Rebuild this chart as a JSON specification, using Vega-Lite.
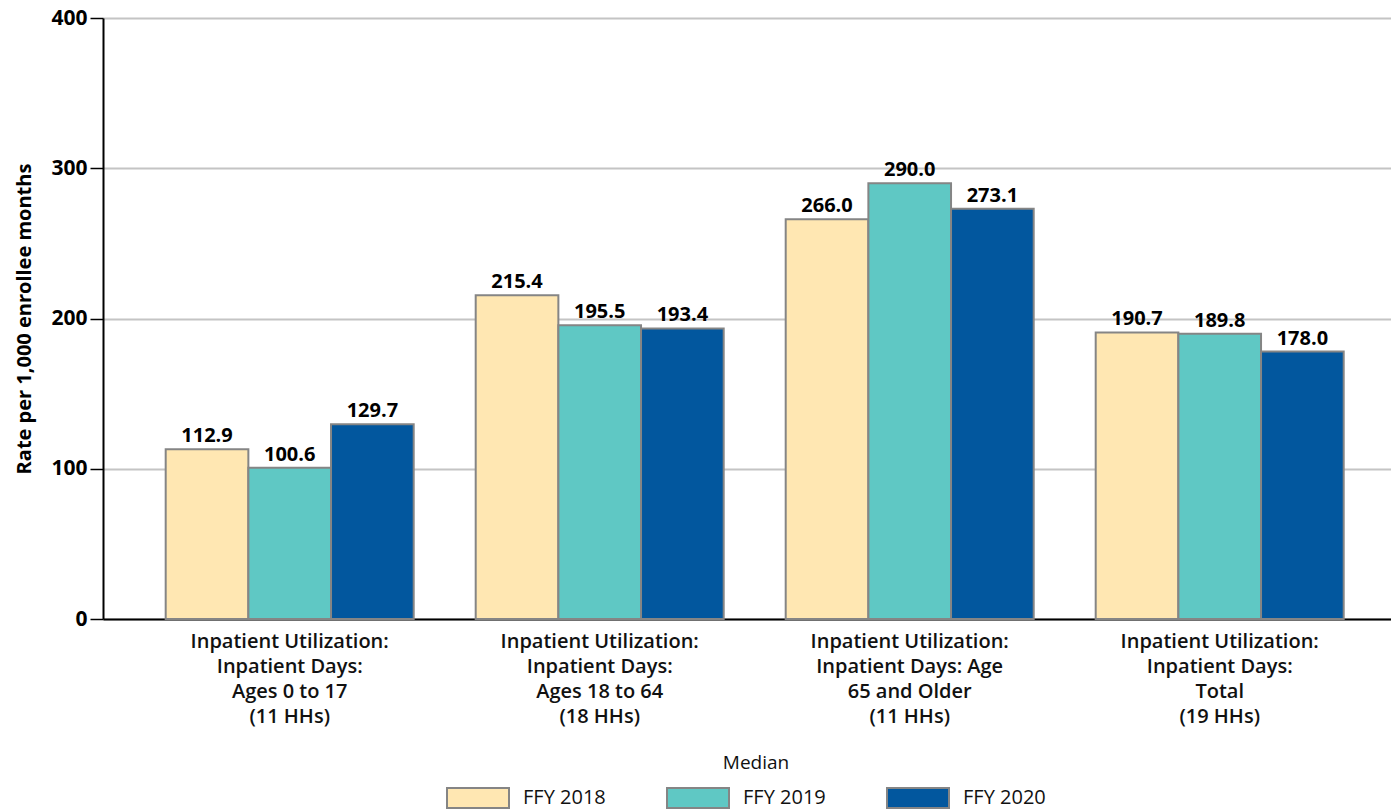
{
  "$schema": "https://vega.github.io/schema/vega-lite/v6.json",
  "autosize": "none",
  "width": 1288,
  "height": 601,
  "padding": {"left": 103, "top": 18, "right": 0, "bottom": 190},
  "background": "white",
  "config": {
    "font": "Open Sans",
    "view": {"stroke": null}
  },
  "data": {
    "values": [
      {"measure": "Inpatient Utilization:|Inpatient Days:|Ages 0 to 17|(11 HHs)", "year": "FFY 2018", "value": 112.9},
      {"measure": "Inpatient Utilization:|Inpatient Days:|Ages 0 to 17|(11 HHs)", "year": "FFY 2019", "value": 100.6},
      {"measure": "Inpatient Utilization:|Inpatient Days:|Ages 0 to 17|(11 HHs)", "year": "FFY 2020", "value": 129.7},
      {"measure": "Inpatient Utilization:|Inpatient Days:|Ages 18 to 64|(18 HHs)", "year": "FFY 2018", "value": 215.4},
      {"measure": "Inpatient Utilization:|Inpatient Days:|Ages 18 to 64|(18 HHs)", "year": "FFY 2019", "value": 195.5},
      {"measure": "Inpatient Utilization:|Inpatient Days:|Ages 18 to 64|(18 HHs)", "year": "FFY 2020", "value": 193.4},
      {"measure": "Inpatient Utilization:|Inpatient Days: Age|65 and Older|(11 HHs)", "year": "FFY 2018", "value": 266.0},
      {"measure": "Inpatient Utilization:|Inpatient Days: Age|65 and Older|(11 HHs)", "year": "FFY 2019", "value": 290.0},
      {"measure": "Inpatient Utilization:|Inpatient Days: Age|65 and Older|(11 HHs)", "year": "FFY 2020", "value": 273.1},
      {"measure": "Inpatient Utilization:|Inpatient Days:|Total|(19 HHs)", "year": "FFY 2018", "value": 190.7},
      {"measure": "Inpatient Utilization:|Inpatient Days:|Total|(19 HHs)", "year": "FFY 2019", "value": 189.8},
      {"measure": "Inpatient Utilization:|Inpatient Days:|Total|(19 HHs)", "year": "FFY 2020", "value": 178.0}
    ]
  },
  "encoding": {
    "x": {
      "field": "measure",
      "type": "nominal",
      "sort": null,
      "scale": {"paddingInner": 0.2, "paddingOuter": 0.1774, "align": 0.57},
      "axis": {
        "title": null,
        "labelAngle": 0,
        "labelExpr": "split(datum.label, '|')",
        "labelFontSize": 20,
        "labelFontWeight": 600,
        "labelLineHeight": 25,
        "labelColor": "#111111",
        "labelPadding": 12,
        "labelLimit": 400,
        "ticks": false,
        "domainColor": "#000000",
        "domainWidth": 2
      }
    },
    "xOffset": {
      "field": "year",
      "type": "nominal",
      "scale": {"paddingInner": 0, "paddingOuter": 0}
    },
    "y": {
      "field": "value",
      "type": "quantitative",
      "scale": {"domain": [0, 400], "nice": false},
      "axis": {
        "title": "Rate per 1,000 enrollee months",
        "titleFontSize": 20,
        "titleFontWeight": "bold",
        "titleColor": "#000000",
        "titlePadding": 16,
        "values": [0, 100, 200, 300, 400],
        "labelFontSize": 21,
        "labelFontWeight": "bold",
        "labelColor": "#000000",
        "labelPadding": 3,
        "tickSize": 13,
        "tickColor": "#000000",
        "tickWidth": 1.5,
        "domainColor": "#000000",
        "domainWidth": 2,
        "gridColor": "#c4c4c4",
        "gridWidth": 2
      }
    }
  },
  "layer": [
    {
      "mark": {"type": "bar", "stroke": "#858585", "strokeWidth": 2},
      "encoding": {
        "color": {
          "field": "year",
          "type": "nominal",
          "scale": {
            "domain": ["FFY 2018", "FFY 2019", "FFY 2020"],
            "range": ["#FFE7B2", "#5FC8C4", "#02579E"]
          },
          "legend": {
            "title": "Median",
            "orient": "none",
            "direction": "horizontal",
            "legendX": 364,
            "legendY": 736,
            "titleAnchor": "middle",
            "titleFontSize": 19,
            "titleFontWeight": "normal",
            "titleColor": "#111111",
            "titlePadding": 14,
            "labelFontSize": 20,
            "labelColor": "#111111",
            "labelOffset": 34,
            "columnPadding": 57,
            "symbolType": "M-3.1,-1H3.1V1H-3.1Z",
            "symbolSize": 400,
            "symbolStrokeColor": "#858585",
            "symbolStrokeWidth": 2,
            "symbolOpacity": 1
          }
        }
      }
    },
    {
      "mark": {"type": "text", "baseline": "bottom", "dy": -3, "fontSize": 20, "fontWeight": "bold", "color": "#000000"},
      "encoding": {
        "text": {"field": "value", "type": "quantitative", "format": ".1f"}
      }
    }
  ]
}
